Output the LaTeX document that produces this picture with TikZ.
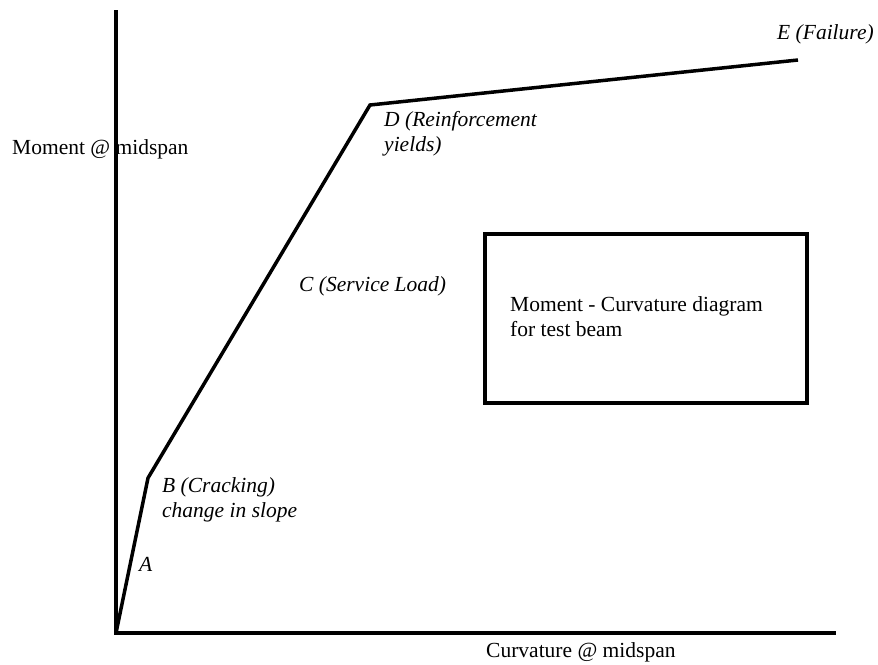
\documentclass[tikz,border=0pt]{standalone}
\usepackage{fontspec}
\setmainfont{Liberation Serif}
\begin{document}
\begin{tikzpicture}[x=1pt,y=-1pt,
  thick line/.style={line width=3.5pt},
  lbl/.style={inner sep=0pt, anchor=base west, font=\fontsize{21.5}{25}\selectfont, align=left},
  ilbl/.style={lbl, font=\fontsize{21.5}{25}\selectfont\itshape}]
\useasboundingbox (0,0) rectangle (878,664);
\coordinate (top) at (116,10);
\coordinate (O) at (116,633);
\coordinate (xend) at (836,633);
\coordinate (B) at (148,478);
\coordinate (D) at (370,105);
\coordinate (E) at (798,60);
\draw[thick line, line cap=butt] (top) -- (O) -- (xend);
\draw[thick line, line join=miter] (O) -- (B) -- (D) -- (E);
\node[draw, line width=3.5pt, minimum width=322pt, minimum height=169pt, anchor=north west, inner sep=0pt] (box) at (483,232) {};
\node[lbl] (boxtxt) at (510,336) {Moment - Curvature diagram\\for test beam};
\node[lbl] (ylab) at (12,154) {Moment @ midspan};
\node[lbl] (xlab) at (486,657) {Curvature @ midspan};
\node[ilbl] (Dl) at (384,151) {D (Reinforcement\\yields)};
\node[ilbl] (El) at (777,39) {E (Failure)};
\node[ilbl] (Cl) at (299,291) {C (Service Load)};
\node[ilbl] (Bl) at (162,517) {B (Cracking)\\change in slope};
\node[ilbl] (Al) at (139,571) {A};
\end{tikzpicture}
\end{document}
